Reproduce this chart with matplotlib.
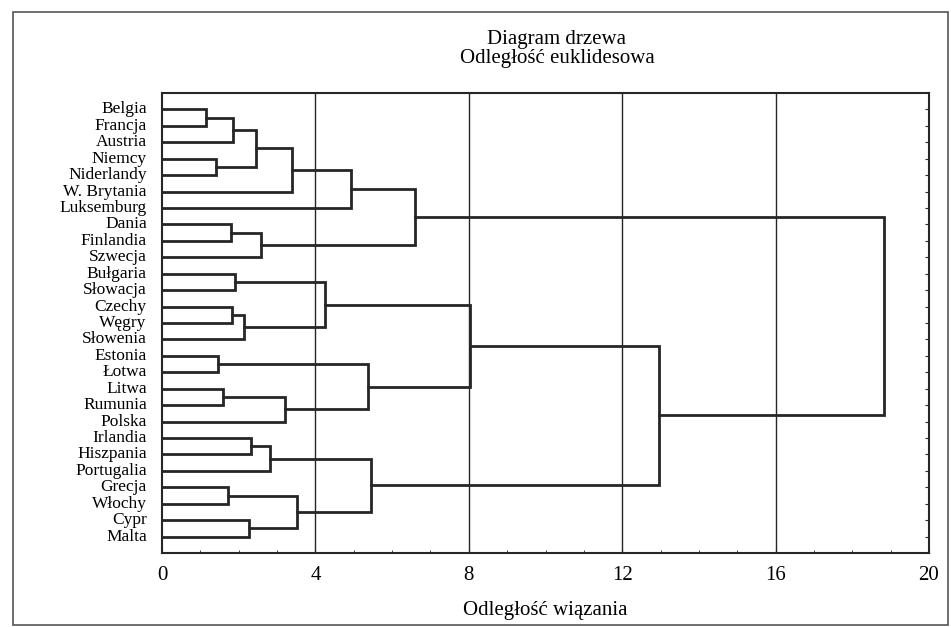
'''
    Tree diagram (Euclidean distance, linkage distance) of EU countries.
'''

# ================= #
# === Libraries === #
# ================= #

import numpy as np
import matplotlib
matplotlib.use('Agg')
import matplotlib.pyplot as plt
from matplotlib.patches import Rectangle

# ============ #
# === Data === #
# ============ #

countries = ['Belgia', 'Francja', 'Austria', 'Niemcy', 'Niderlandy', 'W. Brytania',
             'Luksemburg', 'Dania', 'Finlandia', 'Szwecja', 'Bułgaria', 'Słowacja',
             'Czechy', 'Węgry', 'Słowenia', 'Estonia', 'Łotwa', 'Litwa', 'Rumunia',
             'Polska', 'Irlandia', 'Hiszpania', 'Portugalia', 'Grecja', 'Włochy',
             'Cypr', 'Malta']

# merges like a linkage matrix: (cluster a, cluster b, linkage distance)
# indices < 27 are countries, index 27 + k is the k-th merge below
merge_a = [0, 27, 3, 28, 30, 31, 7, 33, 32, 10, 12, 37, 36, 15, 17, 41, 40, 39,
           20, 45, 23, 25, 47, 46, 44, 35]
merge_b = [1, 2, 4, 29, 5, 6, 8, 9, 34, 11, 13, 14, 38, 16, 18, 19, 42, 43,
           21, 22, 24, 26, 48, 49, 50, 51]
merge_dist = [1.14, 1.86, 1.40, 2.45, 3.38, 4.94, 1.79, 2.58, 6.60, 1.90, 1.82,
              2.14, 4.24, 1.46, 1.58, 3.20, 5.38, 8.03, 2.31, 2.81, 1.73, 2.26,
              3.51, 5.44, 12.95, 18.83]

x_ticks = [0, 4, 8, 12, 16, 20]

# ================== #
# === Plot setup === #
# ================== #

plt.rcParams['font.family'] = ['Liberation Serif', 'DejaVu Serif']
INK = '#262626'

fig = plt.figure(figsize=(9.51, 6.27), dpi=100)
ax = fig.add_axes([162/951, 1 - 553/627, (929-162)/951, (553-93)/627])

# scanned page border
fig.patches.append(Rectangle((13/951, 2/627), 935/951, 613/627, transform=fig.transFigure,
                             fill=False, edgecolor='#555555', linewidth=1.2))

# ============================ #
# === Draw the dendrogram  === #
# ============================ #

n = len(countries)
pos_y = {i: float(i) for i in range(n)}
pos_x = {i: 0.0 for i in range(n)}

for k, (a, b, d) in enumerate(zip(merge_a, merge_b, merge_dist)):
    ya, yb = pos_y[a], pos_y[b]
    ax.plot([pos_x[a], d, d, pos_x[b]], [ya, ya, yb, yb],
            color=INK, linewidth=2.0, solid_joinstyle='miter', zorder=3)
    pos_y[n + k] = (ya + yb) / 2
    pos_x[n + k] = d

# vertical grid at the major ticks
for gx in x_ticks[1:-1]:
    ax.axvline(gx, color=INK, linewidth=1.0, zorder=1)

ax.set_xlim(0, 20)
ax.set_ylim(n, -1)
ax.set_xticks(x_ticks)
ax.set_xticks(range(0, 21), minor=True)
ax.set_xticklabels([str(t) for t in x_ticks], fontsize=15)
ax.set_yticks(range(n))
ax.set_yticklabels(countries, fontsize=12.5)
ax.tick_params(axis='x', which='major', direction='in', length=3, pad=9, color=INK)
ax.tick_params(axis='x', which='minor', direction='in', length=2, color=INK)
ax.tick_params(axis='y', left=False, right=True, direction='in', length=3, pad=11,
               color=INK)
for lab in ax.get_yticklabels():
    lab.set_verticalalignment('center')

for s in ax.spines.values():
    s.set_color(INK)
    s.set_linewidth(1.5)

ax.set_xlabel('Odległość wiązania', fontsize=15, labelpad=12)
fig.text(ax.get_position().x0 + ax.get_position().width / 2 + 0.012, 1 - 49/627,
         'Diagram drzewa\nOdległość euklidesowa', ha='center', va='center',
         fontsize=15, linespacing=1.05)

fig.savefig('out.png', dpi=100)
